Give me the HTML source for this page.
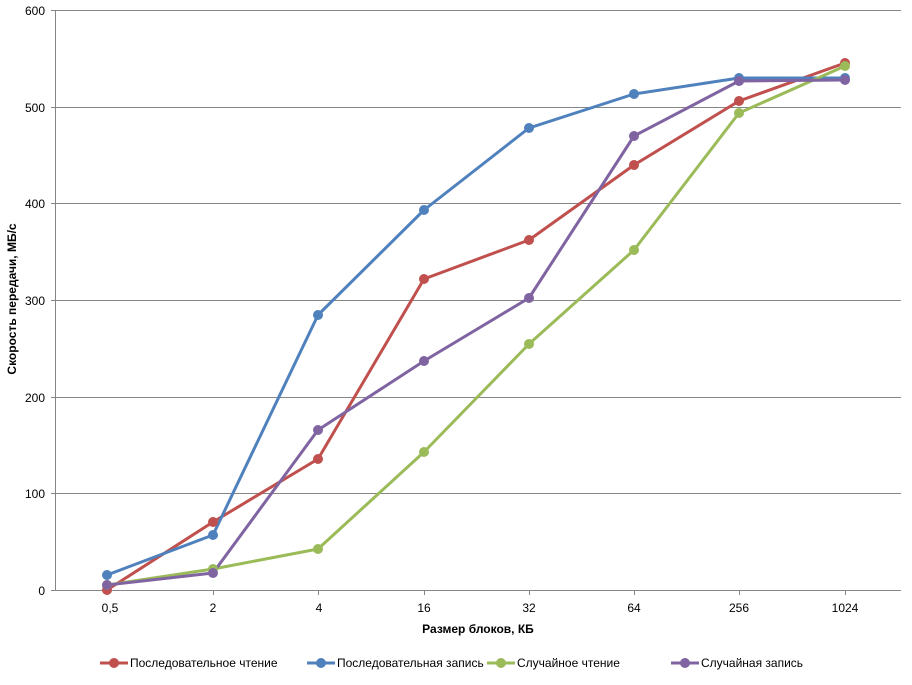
<!DOCTYPE html>
<html><head><meta charset="utf-8"><style>body{margin:0;background:#fff}</style></head><body>
<svg width="912" height="680" xmlns="http://www.w3.org/2000/svg" font-family="Liberation Sans, DejaVu Sans, sans-serif">
<g stroke="#868686" stroke-width="1">
<line x1="55" y1="10.5" x2="901" y2="10.5"/><line x1="55" y1="107.5" x2="901" y2="107.5"/>
<line x1="55" y1="203.5" x2="901" y2="203.5"/><line x1="55" y1="300.5" x2="901" y2="300.5"/>
<line x1="55" y1="397.5" x2="901" y2="397.5"/><line x1="55" y1="493.5" x2="901" y2="493.5"/>
<line x1="55" y1="590.5" x2="901" y2="590.5"/><line x1="55.5" y1="10" x2="55.5" y2="590"/>
<line x1="51" y1="10.5" x2="55" y2="10.5"/><line x1="51" y1="107.5" x2="55" y2="107.5"/><line x1="51" y1="203.5" x2="55" y2="203.5"/><line x1="51" y1="300.5" x2="55" y2="300.5"/><line x1="51" y1="397.5" x2="55" y2="397.5"/><line x1="51" y1="493.5" x2="55" y2="493.5"/><line x1="51" y1="590.5" x2="55" y2="590.5"/>
<line x1="318.5" y1="590" x2="318.5" y2="595"/><line x1="424.5" y1="590" x2="424.5" y2="595"/><line x1="529.5" y1="590" x2="529.5" y2="595"/><line x1="634.5" y1="590" x2="634.5" y2="595"/><line x1="739.5" y1="590" x2="739.5" y2="595"/><line x1="845.5" y1="590" x2="845.5" y2="595"/><line x1="213.5" y1="590" x2="213.5" y2="595"/><line x1="107.5" y1="590" x2="107.5" y2="595"/>
</g>
<g font-size="12" fill="#000" text-anchor="end">
<text x="45" y="15">600</text><text x="45" y="112">500</text><text x="45" y="208">400</text><text x="45" y="305">300</text><text x="45" y="402">200</text><text x="45" y="498">100</text><text x="45" y="595">0</text>
</g>
<g font-size="12" fill="#000" text-anchor="middle">
<text x="110" y="612">0,5</text><text x="213" y="612">2</text><text x="319" y="612">4</text><text x="424" y="612">16</text><text x="529" y="612">32</text><text x="634" y="612">64</text><text x="739" y="612">256</text><text x="845" y="612">1024</text>
<text x="478" y="633" font-weight="bold" font-size="12">Размер блоков, КБ</text>
<text transform="translate(16,299) rotate(-90)" font-weight="bold" font-size="12">Скорость передачи, МБ/с</text>
</g>
<g fill="none" stroke-width="3" stroke-linejoin="round">
<polyline stroke="#c0504d" points="107,590 213,522 318,459 424,279 529,240 634,165 739,101 845,63"/>
<polyline stroke="#4f81bd" points="107,575 213,535 318,315 424,210 529,128 634,94 739,78 845,78"/>
<polyline stroke="#9bbb59" points="107,585 213,569 318,549 424,452 529,344 634,250 739,113 845,66"/>
<polyline stroke="#8064a2" points="107,585 213,573 318,430 424,361 529,298 634,136 739,81 845,80"/>
</g>
<g fill="#c0504d"><circle cx="107" cy="590" r="5"/><circle cx="213" cy="522" r="5"/><circle cx="318" cy="459" r="5"/><circle cx="424" cy="279" r="5"/><circle cx="529" cy="240" r="5"/><circle cx="634" cy="165" r="5"/><circle cx="739" cy="101" r="5"/><circle cx="845" cy="63" r="5"/></g>
<g fill="#4f81bd"><circle cx="107" cy="575" r="5"/><circle cx="213" cy="535" r="5"/><circle cx="318" cy="315" r="5"/><circle cx="424" cy="210" r="5"/><circle cx="529" cy="128" r="5"/><circle cx="634" cy="94" r="5"/><circle cx="739" cy="78" r="5"/><circle cx="845" cy="78" r="5"/></g>
<g fill="#9bbb59"><circle cx="107" cy="585" r="5"/><circle cx="213" cy="569" r="5"/><circle cx="318" cy="549" r="5"/><circle cx="424" cy="452" r="5"/><circle cx="529" cy="344" r="5"/><circle cx="634" cy="250" r="5"/><circle cx="739" cy="113" r="5"/><circle cx="845" cy="66" r="5"/></g>
<g fill="#8064a2"><circle cx="107" cy="585" r="5"/><circle cx="213" cy="573" r="5"/><circle cx="318" cy="430" r="5"/><circle cx="424" cy="361" r="5"/><circle cx="529" cy="298" r="5"/><circle cx="634" cy="136" r="5"/><circle cx="739" cy="81" r="5"/><circle cx="845" cy="80" r="5"/></g>
<g stroke-width="3">
<line x1="100" y1="663" x2="128" y2="663" stroke="#c0504d"/><circle cx="114" cy="663" r="5" fill="#c0504d"/>
<line x1="307" y1="663" x2="335" y2="663" stroke="#4f81bd"/><circle cx="321" cy="663" r="5" fill="#4f81bd"/>
<line x1="487" y1="663" x2="515" y2="663" stroke="#9bbb59"/><circle cx="501" cy="663" r="5" fill="#9bbb59"/>
<line x1="671" y1="663" x2="699" y2="663" stroke="#8064a2"/><circle cx="685" cy="663" r="5" fill="#8064a2"/>
</g>
<g font-size="12" fill="#000">
<text x="130" y="667">Последовательное чтение</text>
<text x="337" y="667">Последовательная запись</text>
<text x="517" y="667">Случайное чтение</text>
<text x="701" y="667">Случайная запись</text>
</g>
</svg>
</body></html>
